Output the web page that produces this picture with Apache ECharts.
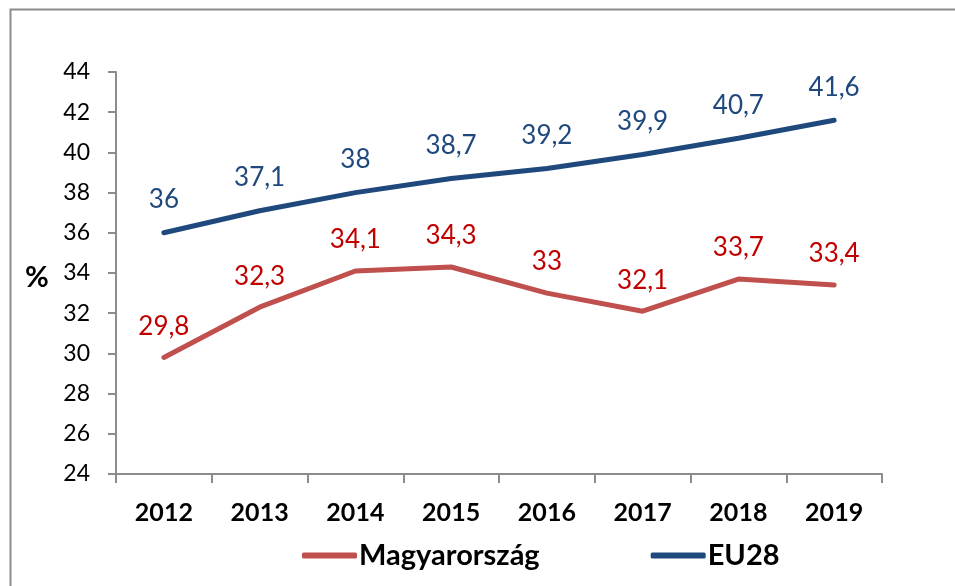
<!DOCTYPE html>
<html>
<head>
<meta charset="utf-8">
<script src="https://cdn.jsdelivr.net/npm/echarts@6/dist/echarts.min.js"></script>
<style>html,body{margin:0;padding:0;background:#fff}#c{width:955px;height:586px}</style>
</head>
<body>
<div id="c"></div>
<script>
const years = ['2012','2013','2014','2015','2016','2017','2018','2019'];
const hungary = [29.8, 32.3, 34.1, 34.3, 33.0, 32.1, 33.7, 33.4];
const eu28 = [36.0, 37.1, 38.0, 38.7, 39.2, 39.9, 40.7, 41.6];
const seriesNames = ['Magyarország', 'EU28'];
const yUnit = '%';

const FONT = 'Lato, "Noto Sans", sans-serif';
const fmt = p => String(p.value).replace('.', ',');

const chart = echarts.init(document.getElementById('c'));
chart.setOption({
  animation: false,
  backgroundColor: '#fff',
  textStyle: { fontFamily: FONT },
  graphic: [
    { type: 'rect', left: 8, top: 7, shape: { width: 1100, height: 700 },
      style: { fill: 'none', stroke: '#8c8c8c', lineWidth: 2 }, silent: true },
    { type: 'text', left: 25, top: 263, style: { text: yUnit, font: 'bold 29px ' + FONT, fill: '#000' } }
  ],
  grid: { left: 116, right: 73, top: 72, bottom: 112, containLabel: false },
  legend: {
    data: seriesNames,
    left: 297, top: 536,
    icon: 'roundRect',
    itemWidth: 55, itemHeight: 6, itemGap: 111,
    textStyle: { fontSize: 29, fontWeight: 'bold', color: '#000', fontFamily: FONT, padding: [0,0,0,-3] }
  },
  xAxis: {
    type: 'category', data: years, boundaryGap: true,
    axisLine: { lineStyle: { color: '#8c8c8c', width: 2 } },
    axisTick: { show: true, length: 9, lineStyle: { color: '#8c8c8c', width: 2 } },
    axisLabel: { fontSize: 25, fontWeight: 'bold', color: '#000', margin: 26, fontFamily: FONT }
  },
  yAxis: {
    type: 'value', min: 24, max: 44, interval: 2,
    splitLine: { show: false },
    axisLine: { show: true, lineStyle: { color: '#8c8c8c', width: 2 } },
    axisTick: { show: true, length: 8, lineStyle: { color: '#8c8c8c', width: 2 } },
    axisLabel: { fontSize: 23, color: '#000', margin: 26, fontFamily: FONT }
  },
  series: [
    { name: seriesNames[0], type: 'line', data: hungary, symbol: 'circle', symbolSize: 0.1, showSymbol: true,
      lineStyle: { color: '#C0504D', width: 5, cap: 'round' }, itemStyle: { color: '#C0504D' },
      label: { show: true, position: 'top', distance: 18, formatter: fmt, fontSize: 26, color: '#C00000', fontFamily: FONT } },
    { name: seriesNames[1], type: 'line', data: eu28, symbol: 'circle', symbolSize: 0.1, showSymbol: true,
      lineStyle: { color: '#1F497D', width: 5, cap: 'round' }, itemStyle: { color: '#1F497D' },
      label: { show: true, position: 'top', distance: 20, formatter: fmt, fontSize: 26, color: '#1F497D', fontFamily: FONT } }
  ]
});
</script>
</body>
</html>
